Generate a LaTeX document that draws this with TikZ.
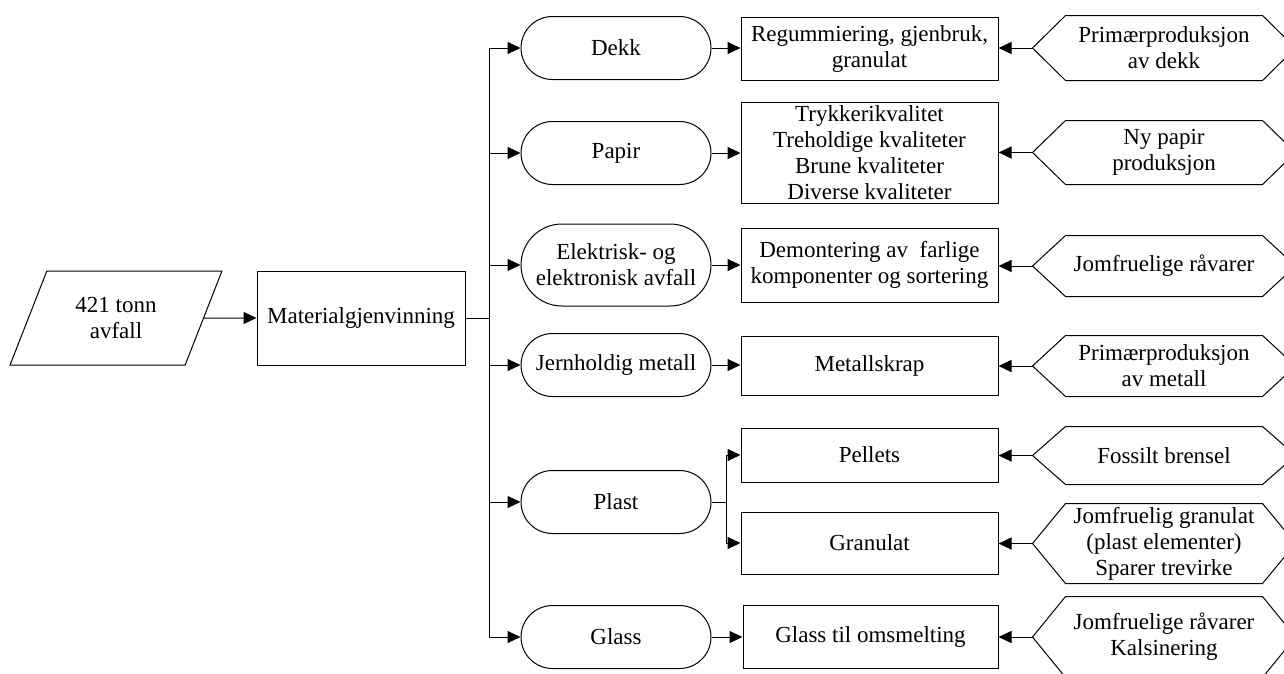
\documentclass[tikz,border=0pt]{standalone}
\usepackage{fontspec}
\setmainfont{Liberation Serif}
\usetikzlibrary{shapes.geometric,shapes.misc,arrows.meta}

\begin{document}
\begin{tikzpicture}[x=1pt,y=-1pt,line width=1pt,
  every node/.style={font=\fontsize{23}{26}\selectfont,align=center,inner sep=0pt},
  box/.style={draw,rectangle,minimum width=257,minimum height=#1},
  term/.style={draw,rounded rectangle,minimum width=190,minimum height=#1},
  hexa/.style={minimum width=196,minimum height=#1},
  arr/.style={-{Triangle[length=13pt,width=12pt]}}]
\useasboundingbox (0,0) rectangle (1284,673);

\node [draw,trapezium,trapezium left angle=62.5,trapezium right angle=117.5,trapezium stretches=true,minimum width=212,minimum height=94] (waste) at (116,318) {421 tonn\\avfall};
\node [box=94,minimum width=208] (mat) at (361,318) {Materialgjenvinning};
\coordinate (bus) at (489,318);

\node [term=63,label={center:Dekk}] (dekk) at (616,48) {};
\node [term=63,label={center:Papir}] (papir) at (616,153) {};
\node [term=82,label={center:{Elektrisk- og\\elektronisk avfall}}] (el) at (616,265) {};
\node [term=63,label={center:Jernholdig metall}] (jern) at (616,365) {};
\node [term=63,label={center:Plast}] (plast) at (616,502) {};
\node [term=63,label={center:Glass}] (glass) at (616,637) {};

\node [box=63] (bdekk) at (869.5,48.5) {Regummiering, gjenbruk,\\granulat};
\node [box=101] (bpapir) at (869.5,152.5) {Trykkerikvalitet\\Treholdige kvaliteter\\Brune kvaliteter\\Diverse kvaliteter};
\node [box=74] (bel) at (869.5,265) {Demontering av \ farlige\\komponenter og sortering};
\node [box=59] (bjern) at (869.5,365.5) {Metallskrap};
\node [box=54] (bpel) at (869.5,455) {Pellets};
\node [box=62] (bgran) at (869.5,543) {Granulat};
\node [box=63,minimum width=255] (bglass) at (870.5,636.5) {Glass til omsmelting};

\node [hexa=64] (hdekk) at (1164,48) {Primærproduksjon\\av dekk};
\node [hexa=63] (hpapir) at (1164,152.5) {Ny papir\\produksjon};
\node [hexa=60] (hel) at (1164,266) {Jomfruelige råvarer};
\node [hexa=60] (hjern) at (1164,366) {Primærproduksjon\\av metall};
\node [hexa=57] (hpel) at (1164,455.5) {Fossilt brensel};
\node [hexa=79] (hgran) at (1164,543.5) {Jomfruelig granulat\\(plast elementer)\\Sparer trevirke};
\node [hexa=80] (hglass) at (1164,637) {Jomfruelige råvarer\\Kalsinering};
\foreach \h in {hdekk,hpapir,hel,hjern,hpel,hgran,hglass}
  \draw (\h.north west) -- (\h.north east) -- ([xshift=33pt]\h.east) -- (\h.south east) -- (\h.south west) -- ([xshift=-33pt]\h.west) -- cycle;

\draw [arr] (waste.east) -- (mat.west);
\draw (mat.east) -- (bus);
\draw (bus |- dekk.west) -- (bus |- glass.west);
\foreach \t in {dekk,papir,el,jern,plast,glass}
  \draw [arr] (bus |- \t.west) -- (\t.west);

\foreach \t/\b in {dekk/bdekk,papir/bpapir,el/bel,jern/bjern,glass/bglass}
  \draw [arr] (\t.east) -- (\b.west |- \t.east);
\coordinate (split) at (726,502);
\draw (plast.east) -- (split);
\draw [arr] (split) |- (bpel.west);
\draw [arr] (split) |- (bgran.west);

\foreach \b in {dekk,papir,el,jern,pel,gran,glass}
  \draw [arr] ([xshift=-33pt]h\b.west) -- (b\b.east |- h\b.west);

\end{tikzpicture}
\end{document}
